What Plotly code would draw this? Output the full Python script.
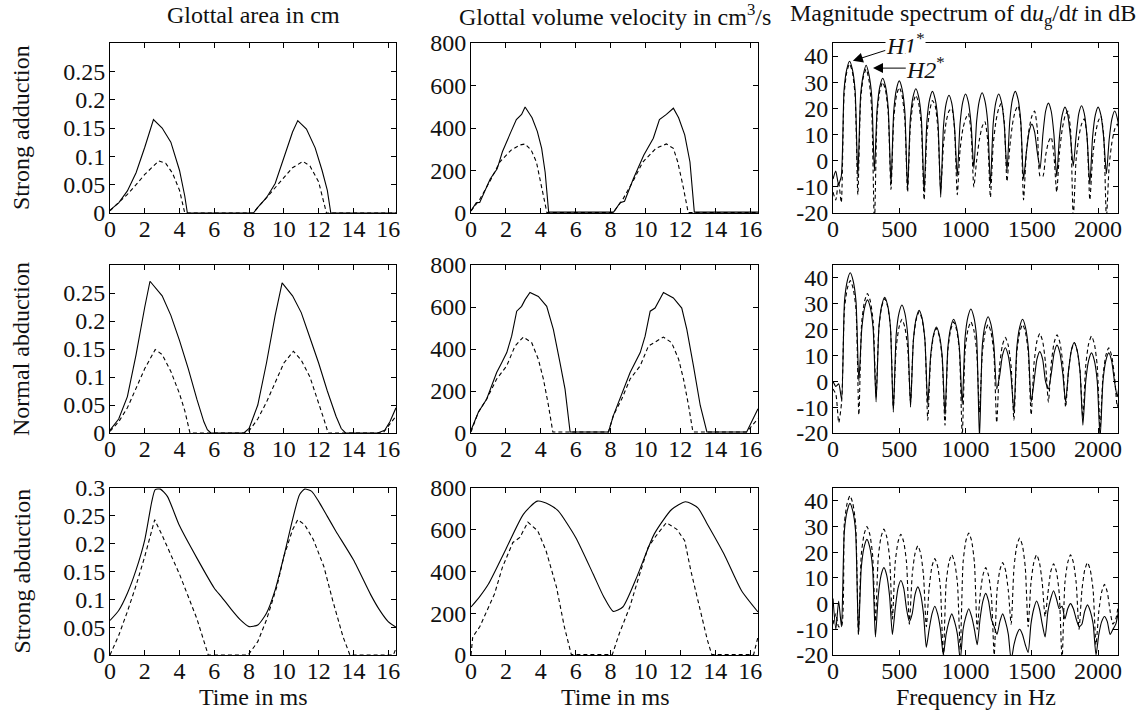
import numpy as np
import plotly.graph_objects as go

# ---------------- time-domain data (ms) ----------------
# Row 1: strong adduction -- glottal area (cm)
t_area1_s = [0, 0.5, 1, 1.5, 2, 2.5, 3, 3.5, 4, 4.3, 4.45, 8.25, 8.5, 9, 9.5, 10, 10.5, 10.8, 11.3, 11.8, 12.2, 12.5, 12.7, 16.45]
v_area1_s = [0.005, 0.018, 0.039, 0.071, 0.116, 0.165, 0.15, 0.125, 0.075, 0.03, 0, 0, 0.01, 0.027, 0.052, 0.098, 0.143, 0.163, 0.148, 0.115, 0.075, 0.04, 0, 0]
t_area1_d = [0, 0.5, 1, 1.5, 2, 2.5, 2.8, 3.2, 3.6, 4.0, 4.3, 8.25, 8.5, 9, 9.5, 10, 10.5, 11.1, 11.5, 12, 12.45, 16.45]
v_area1_d = [0.004, 0.018, 0.033, 0.05, 0.068, 0.083, 0.092, 0.088, 0.07, 0.04, 0, 0, 0.01, 0.027, 0.045, 0.063, 0.08, 0.091, 0.083, 0.055, 0, 0]

# Row 2: normal abduction -- glottal area
t_area2_s = [0, 0.5, 1, 1.5, 2, 2.3, 3, 3.5, 4, 4.5, 5, 5.4, 5.6, 5.8, 7.7, 8, 8.5, 9, 9.5, 9.9, 10.5, 11, 11.5, 12, 12.5, 13, 13.3, 13.55, 15.4, 15.8, 16.1, 16.45]
v_area2_s = [0.005, 0.025, 0.065, 0.14, 0.225, 0.271, 0.245, 0.21, 0.165, 0.115, 0.06, 0.02, 0.006, 0, 0, 0.008, 0.05, 0.125, 0.21, 0.268, 0.245, 0.215, 0.17, 0.125, 0.075, 0.03, 0.008, 0, 0, 0.005, 0.02, 0.045]
t_area2_d = [0, 0.5, 1, 1.5, 2, 2.6, 3, 3.5, 4, 4.3, 4.6, 7.8, 8, 8.5, 9, 9.5, 10, 10.55, 11, 11.5, 12, 12.3, 12.55, 15.7, 16.45]
v_area2_d = [0.003, 0.02, 0.045, 0.08, 0.115, 0.149, 0.14, 0.11, 0.07, 0.04, 0, 0, 0.004, 0.025, 0.055, 0.09, 0.125, 0.146, 0.13, 0.1, 0.055, 0.025, 0, 0, 0.03]

# Row 3: strong abduction -- glottal area
t_area3_s = [0, 0.5, 1, 1.5, 2, 2.4, 2.6, 2.9, 3.3, 4, 5, 6, 6.4, 7, 7.5, 8, 8.5, 9, 9.5, 10, 10.5, 10.9, 11.2, 11.6, 12, 12.5, 13, 14, 15, 15.5, 16, 16.45]
v_area3_s = [0.062, 0.08, 0.111, 0.153, 0.207, 0.275, 0.297, 0.298, 0.285, 0.232, 0.174, 0.12, 0.105, 0.081, 0.063, 0.051, 0.054, 0.075, 0.117, 0.177, 0.243, 0.288, 0.298, 0.294, 0.276, 0.249, 0.222, 0.171, 0.108, 0.081, 0.06, 0.05]
t_area3_d = [0, 0.5, 1, 1.5, 2, 2.57, 3, 3.5, 4, 4.5, 5, 5.4, 5.65, 7.95, 8.5, 9, 9.6, 10, 10.5, 10.8, 11.2, 11.7, 12.3, 12.8, 13.4, 13.8, 16.3, 16.45]
v_area3_d = [0, 0.035, 0.078, 0.125, 0.177, 0.243, 0.215, 0.18, 0.145, 0.105, 0.065, 0.025, 0, 0, 0.024, 0.063, 0.123, 0.177, 0.225, 0.243, 0.234, 0.207, 0.159, 0.099, 0.033, 0, 0, 0.012]

# Row 1: glottal volume velocity (cm^3/s)
t_flow1_s = [0, 0.3, 0.5, 1.1, 1.5, 1.8, 2.3, 2.6, 2.9, 3.1, 3.5, 3.8, 4.05, 4.25, 4.45, 8.17, 8.55, 8.8, 9.3, 9.9, 10.45, 10.8, 11.2, 11.6, 11.9, 12.25, 12.55, 12.8, 16.45]
v_flow1_s = [10, 48, 50, 160, 208, 288, 384, 440, 464, 499, 448, 384, 304, 192, 4, 4, 48, 55, 160, 272, 352, 440, 464, 493, 448, 368, 240, 4, 4]
t_flow1_d = [0, 0.5, 1.1, 1.65, 2.3, 2.8, 3.1, 3.45, 3.75, 4.0, 4.35, 8.15, 8.7, 9.3, 9.85, 10.6, 11.2, 11.6, 11.85, 12.15, 12.45, 16.45]
v_flow1_d = [10, 64, 152, 240, 296, 320, 325, 296, 240, 144, 2, 2, 64, 152, 240, 304, 325, 304, 240, 128, 2, 2]

# Row 2: glottal volume velocity
t_flow2_s = [0, 0.42, 0.9, 1.47, 1.76, 2.05, 2.33, 2.62, 2.9, 3.1, 3.38, 3.86, 4.34, 4.72, 5.1, 5.39, 5.68, 7.88, 8.16, 8.55, 9.12, 9.7, 9.98, 10.27, 10.55, 11.03, 11.6, 12.08, 12.37, 12.75, 13.14, 13.52, 15.8, 16.45]
v_flow2_s = [13, 99, 162, 288, 335, 383, 461, 580, 603, 635, 669, 650, 603, 493, 335, 209, 5, 5, 83, 170, 288, 383, 461, 580, 595, 669, 643, 595, 493, 320, 131, 5, 5, 115]
t_flow2_d = [0, 0.42, 0.9, 1.47, 2.05, 2.52, 3.0, 3.48, 3.86, 4.15, 4.44, 4.69, 7.88, 8.16, 8.64, 9.12, 9.7, 10.17, 11.03, 11.5, 11.9, 12.18, 12.47, 12.72, 15.8, 16.45]
v_flow2_d = [5, 99, 162, 257, 320, 414, 457, 430, 351, 257, 131, 5, 5, 83, 162, 257, 320, 414, 457, 430, 351, 257, 131, 5, 5, 68]

# Row 3: glottal volume velocity
t_flow3_s = [0, 0.5, 1, 2, 3, 3.8, 4.5, 5, 6, 7, 7.6, 8.15, 8.7, 9.5, 10.5, 11.5, 12.3, 13, 13.5, 14.5, 15.5, 16.45]
v_flow3_s = [230, 280, 340, 507, 674, 737, 720, 690, 563, 388, 280, 209, 230, 373, 579, 697, 734, 705, 634, 484, 309, 206]
t_flow3_d = [0, 0.1, 0.5, 0.85, 1.35, 1.8, 2.4, 2.8, 3.26, 3.83, 4.3, 4.9, 5.35, 5.75, 8.1, 8.5, 9.1, 9.67, 10.15, 10.6, 11.2, 11.8, 12.25, 12.6, 13.1, 13.55, 13.8, 16.2, 16.45]
v_flow3_d = [0, 87, 135, 198, 293, 420, 539, 563, 637, 594, 500, 325, 135, 2, 2, 103, 230, 388, 515, 570, 634, 602, 547, 404, 230, 71, 2, 2, 87]

# ---------------- spectra (dB), sampled every f0/6 Hz ----------------
f0_top, f0_mid, f0_bot = 125.0, 130.0, 128.0

db_top_solid = [-7, -4, -9, -6,
    27, 35, 38, 35, 27, -6,
    25, 33, 36.5, 33, 25, -4,
    20, 28.5, 31.5, 28.5, 20, -9,
    19, 27.5, 30.5, 27.5, 19, -11,
    16, 24.5, 27.5, 24.5, 16, -12,
    15, 23.5, 26.5, 23.5, 15, -14,
    13, 22, 25, 22, 13, -6,
    14, 22.5, 25.5, 22.5, 14, -3,
    15, 23, 26, 23, 15, -9,
    14, 22.5, 25.5, 22.5, 14, -4,
    15, 23.5, 26.5, 23.5, 15, -7,
    3, 11, 14, 11, 3, -3,
    10, 19, 22, 19, 10, -6,
    9, 17.5, 20.5, 17.5, 9, -2,
    9, 18, 21, 18, 9, -9,
    9, 17.5, 20.5, 17.5, 9, -5,
    8, 16, 19, 16, 8, -6]
db_top_dash = [-12, -15, -8, -16,
    25, 34, 37, 34, 25, -13,
    23, 32, 35, 31, 20, -25,
    18, 27, 30, 27, 18, -11,
    16, 25, 28, 25, 16, -12,
    13, 22, 25, 22, 13, -15,
    10, 19, 23, 21, 12, -11,
    6, 15, 19, 20, 12, -13,
    4, 12, 16, 18, 11, -10,
    0, 8, 13, 15, 8, -14,
    6, 15, 20, 22, 15, -8,
    5, 14, 19, 21, 14, -15,
    3, 12, 17, 19, 12, -6,
    -6, 2, 7, 9, 2, -12,
    3, 12, 17, 19, 12, -22,
    0, 9, 14, 16, 9, -15,
    1, 10, 15, 17, 10, -22,
    -2, 7, 12, 14, 7, -10]

db_mid_solid = [0, -2, -1, -7,
    31, 39, 42, 39, 31, 0,
    20, 28.5, 31.5, 28.5, 20, -8,
    21, 29.5, 32.5, 29.5, 21, -12,
    18, 26.5, 29.5, 26.5, 18, -10,
    16, 24.5, 27.5, 24.5, 16, -9,
    10, 18, 21, 18, 10, -13,
    13, 21, 24, 21, 13, -9,
    17, 25, 28, 25, 17, -22,
    14, 22, 25, 22, 14, -3,
    2, 10, 13, 10, 2, -12,
    13, 21, 24, 21, 13, -8,
    0, 8.5, 11.5, 8.5, 0, -3,
    3, 11, 14, 11, 3, -8,
    4, 12, 15, 12, 4, -17,
    0, 8, 11, 8, 0, -22,
    0, 8, 11, 8, 0, -6,
    2, 6]
db_mid_dash = [-3, -5, -16, -8,
    28, 36, 39, 36, 28, -13,
    23, 31, 34, 31, 23, -6,
    21, 29, 32, 29, 21, -10,
    13, 21, 24, 21, 13, -8,
    16, 24, 27, 24, 16, -15,
    9, 17.5, 20.5, 17.5, 9, -17,
    12, 20, 23, 20, 12, -21,
    12, 20, 23, 20, 12, -12,
    11, 19, 22, 19, 11, -16,
    6, 14, 17, 14, 6, -15,
    11, 19, 22, 19, 11, -13,
    7, 15.5, 18.5, 15.5, 7, -8,
    7, 15, 18, 15, 7, -10,
    4, 12, 15, 12, 4, -14,
    6, 14.5, 17.5, 14.5, 6, -18,
    2, 10, 13, 10, 2, -10,
    -2, 4]

db_bot_solid = [2, -10, 1, -9,
    28, 36, 39, 36, 28, -12,
    14, 22, 25, 22, 14, -13,
    3, 11, 14, 11, 3, -12,
    -2, 6, 9, 6, -2, -7,
    -4, 3.5, 6.5, 3.5, -4, -17,
    -10, -4, -1, -4, -10, -20,
    -12, -7, -4, -7, -12, -22,
    -10, -5, -2, -5, -10, -16,
    -6, 1, 4, 1, -6, -9,
    -12, -7, -4, -7, -12, -22,
    -16, -12, -10, -12, -16, -19,
    -8, -2, 1, -2, -8, -13,
    -3, 2, 5, 2, -2, -1,
    -6, -2, 0, -2, -6, -9,
    -8, -3, -0.5, -3, -8, -20,
    -12, -7, -5, -7, -12, -10,
    -8, -3, 0, -3, -6]
db_bot_dash = [-8, -4, -9, -9,
    31, 39, 42, 39, 31, -12,
    19, 27, 30, 27, 19, -7,
    18, 26, 29, 26, 18, -6,
    16, 24, 27, 24, 16, -8,
    11, 19.5, 22.5, 19.5, 11, -9,
    6, 14.5, 17.5, 14.5, 6, -22,
    8, 16, 19, 16, 8, -18,
    16, 24.5, 27.5, 24.5, 16, -10,
    3, 11, 14, 11, 3, -20,
    5, 13, 16, 13, 5, -8,
    14, 22.5, 25.5, 22.5, 14, -9,
    8, 16, 19, 16, 8, -5,
    4, 12.5, 15.5, 12.5, 4, -22,
    8, 16, 19, 16, 8, -10,
    5, 13, 16, 13, 5, -16,
    -3, 4.5, 7.5, 4.5, -3, -8,
    -6, 0]

freq_top = np.arange(len(db_top_solid)) * f0_top / 6
freq_mid = np.arange(len(db_mid_solid)) * f0_mid / 6
freq_bot = np.arange(len(db_bot_solid)) * f0_bot / 6

time_ticks = [0, 2, 4, 6, 8, 10, 12, 14, 16]
area_ticks = [0, 0.05, 0.1, 0.15, 0.2, 0.25]
area_ticks3 = [0, 0.05, 0.1, 0.15, 0.2, 0.25, 0.3]
flow_ticks = [0, 200, 400, 600, 800]
freq_ticks = [0, 500, 1000, 1500, 2000]
db_ticks = [-20, -10, 0, 10, 20, 30, 40]

col_titles = ["Glottal area in cm",
              "Glottal volume velocity in cm<sup>3</sup>/s",
              "Magnitude spectrum of d<i>u</i><sub>g</sub>/d<i>t</i> in dB"]
row_titles = ["Strong adduction", "Normal abduction", "Strong abduction"]
x_titles = ["Time in ms", "Time in ms", "Frequency in Hz"]

# ---------------- figure ----------------
W, H = 1147, 711
FONT = "Liberation Serif"
INK = "#111111"
col_px = [(110, 396), (471, 758), (833, 1118)]
row_px = [(43, 213), (265, 433), (488, 655)]

def xdom(c):
    return [col_px[c][0] / W, col_px[c][1] / W]

def ydom(r):
    return [1 - row_px[r][1] / H, 1 - row_px[r][0] / H]

solid = dict(color="black", width=1.1)
dashed = dict(color="black", width=1.1, dash="4px,3px")

# (row, col, curves, xrange, yrange, xticks, yticks, smooth solid?, smooth dashed?)
panels = [
    (0, 0, [(t_area1_s, v_area1_s), (t_area1_d, v_area1_d)], [0, 16.45], [0, 0.3], time_ticks, area_ticks, False, False),
    (0, 1, [(t_flow1_s, v_flow1_s), (t_flow1_d, v_flow1_d)], [0, 16.45], [0, 800], time_ticks, flow_ticks, False, False),
    (0, 2, [(freq_top, db_top_solid), (freq_top, db_top_dash)], [0, 2150], [-20, 45], freq_ticks, db_ticks, True, True),
    (1, 0, [(t_area2_s, v_area2_s), (t_area2_d, v_area2_d)], [0, 16.45], [0, 0.3], time_ticks, area_ticks, False, False),
    (1, 1, [(t_flow2_s, v_flow2_s), (t_flow2_d, v_flow2_d)], [0, 16.45], [0, 800], time_ticks, flow_ticks, False, False),
    (1, 2, [(freq_mid, db_mid_solid), (freq_mid, db_mid_dash)], [0, 2150], [-20, 45], freq_ticks, db_ticks, True, True),
    (2, 0, [(t_area3_s, v_area3_s), (t_area3_d, v_area3_d)], [0, 16.45], [0, 0.3], time_ticks, area_ticks3, True, False),
    (2, 1, [(t_flow3_s, v_flow3_s), (t_flow3_d, v_flow3_d)], [0, 16.45], [0, 800], time_ticks, flow_ticks, True, False),
    (2, 2, [(freq_bot, db_bot_solid), (freq_bot, db_bot_dash)], [0, 2150], [-20, 45], freq_ticks, db_ticks, True, True),
]

fig = go.Figure()
layout = {}
tickfont = dict(family=FONT, size=24, color=INK)
for (r, c, curves, xr, yr, xt, yt, sm_s, sm_d) in panels:
    i = r * 3 + c + 1
    xa = "x" if i == 1 else f"x{i}"
    ya = "y" if i == 1 else f"y{i}"
    for k, (xs, ys) in enumerate(curves):
        ln = dict(dashed if k == 1 else solid)
        if (k == 0 and sm_s) or (k == 1 and sm_d):
            ln.update(shape="spline", smoothing=0.6)
        fig.add_trace(go.Scatter(x=list(xs), y=list(ys), mode="lines", line=ln,
                                 xaxis=xa, yaxis=ya, showlegend=False,
                                 hoverinfo="skip"))
    common = dict(showline=True, linecolor="black", linewidth=1, mirror="ticks",
                  ticks="inside", ticklen=5, tickwidth=1, tickcolor="black",
                  showgrid=False, zeroline=False, tickfont=tickfont,
                  fixedrange=True, automargin=False)
    layout["xaxis" if i == 1 else f"xaxis{i}"] = dict(
        domain=xdom(c), anchor=ya, range=xr, tickvals=xt,
        ticktext=[str(v) for v in xt], ticklabelstandoff=-6, **common)
    layout["yaxis" if i == 1 else f"yaxis{i}"] = dict(
        domain=ydom(r), anchor=xa, range=yr, tickvals=yt,
        ticktext=[("%g" % v) for v in yt], ticklabelstandoff=-1, **common)

annotations = []
tfont = dict(family=FONT, size=24, color=INK)
for c in range(3):
    cx = (col_px[c][0] + col_px[c][1]) / 2 / W
    annotations.append(dict(text=col_titles[c], x=cx if c < 2 else 963 / W, y=1 - 15 / H,
                            xref="paper", yref="paper", showarrow=False,
                            xanchor="center", yanchor="middle", font=tfont))
    annotations.append(dict(text=x_titles[c], x=cx, y=1 - 697 / H,
                            xref="paper", yref="paper", showarrow=False,
                            xanchor="center", yanchor="middle", font=tfont))
for r in range(3):
    cy = 1 - (row_px[r][0] + row_px[r][1]) / 2 / H
    annotations.append(dict(text=row_titles[r], x=21 / W, y=cy, textangle=-90,
                            xref="paper", yref="paper", showarrow=False,
                            xanchor="center", yanchor="middle", font=tfont))

afont = dict(family=FONT, size=24, color=INK)
annotations.append(dict(text="<i>H1</i><sup>*</sup>", x=150, y=38.2, ax=545, ay=44.6,
                        xref="x3", yref="y3", axref="x3", ayref="y3",
                        showarrow=True, arrowhead=2, arrowsize=2, arrowwidth=1,
                        arrowcolor="black", bgcolor="white", borderpad=0, font=afont))
annotations.append(dict(text="<i>H2</i><sup>*</sup>", x=302, y=35.4, ax=700, ay=35.4,
                        xref="x3", yref="y3", axref="x3", ayref="y3",
                        showarrow=True, arrowhead=2, arrowsize=2, arrowwidth=1,
                        arrowcolor="black", bgcolor="white", borderpad=0, font=afont))

fig.update_layout(**layout)
fig.update_layout(template="none", annotations=annotations, width=W, height=H, autosize=False,
                  margin=dict(l=0, r=0, t=0, b=0, pad=0),
                  paper_bgcolor="white", plot_bgcolor="white",
                  font=dict(family=FONT, color=INK), showlegend=False)

fig.write_html("out.html", config={"displayModeBar": False, "staticPlot": True},
               post_script="document.body.style.margin='0px';document.body.style.padding='0px';document.body.style.overflow='hidden';")
